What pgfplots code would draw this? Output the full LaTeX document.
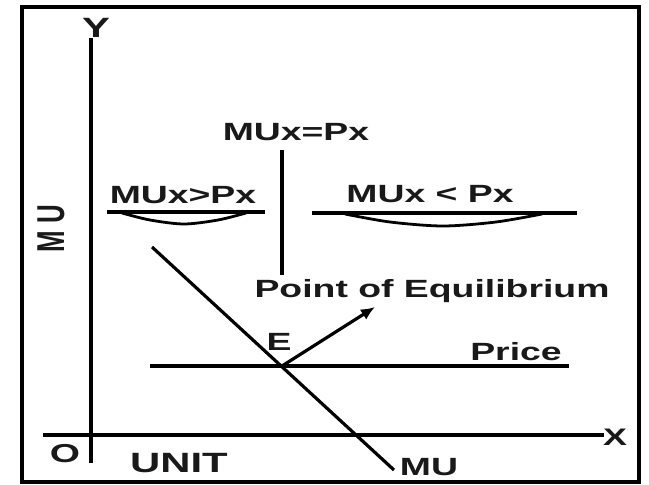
\documentclass[border=0pt]{standalone}
\usepackage{pgfplots}
\pgfplotsset{compat=1.18}
\usepackage{fontspec}
\setmainfont{Liberation Sans}
\usetikzlibrary{arrows.meta}

% bold label set at a given size, widened horizontally
\tikzset{
  lab/.style={font=\fontsize{#1}{#1}\selectfont\bfseries, xscale=1.5, inner sep=0pt, anchor=base, text=black!90},
  lab/.default=25,
  ln/.style={draw=black, solid, line width=#1, mark=none},
  ln/.default=3.2pt,
}

\begin{document}
\begin{tikzpicture}
\begin{axis}[
  scale only axis, width=649bp, height=484bp,
  xmin=0, xmax=649, ymin=0, ymax=484, y dir=reverse,
  hide axis, clip=false,
]
% page background and outer frame
\addplot[fill=white, draw=none, mark=none] coordinates {(0,0)(649,0)(649,484)(0,484)(0,0)};
\addplot[ln=4.5pt, line cap=rect, line join=miter] coordinates {(22,7)(639,7)(639,482)(22,482)(22,7)};

% axes
\addplot[ln] coordinates {(91,38)(91,463)};
\addplot[ln] coordinates {(43,435)(604,435)};

% marginal utility curve and price line
\addplot[ln] coordinates {(152,247)(394,470)};
\addplot[ln] coordinates {(150,366)(569,366)};

% equilibrium marker line and pointer
\addplot[ln] coordinates {(282,150)(282,275)};
\addplot[ln, -{Latex[length=14bp,width=12bp]}] coordinates {(282,366)(375,307)};

% brackets under the region labels
\addplot[ln=4pt] coordinates {(107,212)(265,212)};
\addplot[ln=2.8pt, smooth] coordinates {(122,213)(150,220)(184,224)(218,220)(246,213)};
\addplot[ln=4pt] coordinates {(312,213)(577,213)};
\addplot[ln=2.8pt, smooth] coordinates {(345,214)(390,222)(443,226)(496,222)(542,214)};

% labels
\node[lab=28] at (axis cs:96,38) {Y};
\node[lab=24] at (axis cs:615,445) {X};
\node[lab=26] at (axis cs:65,462) {O};
\node[lab=28] at (axis cs:179,472) {UNIT};
\node[lab=25] at (axis cs:429,475) {MU};
\node[font=\fontsize{26}{26}\selectfont\bfseries, text=black!90, rotate=90, yscale=1.5, inner sep=0pt] at (axis cs:51,229) {M U};

\node[lab=25] at (axis cs:296,141) {MUx=Px};
\node[lab=25] at (axis cs:183,203) {MUx>Px};
\node[lab=25] at (axis cs:430,202) {MUx < Px};
\node[lab=25] at (axis cs:432,297) {Point of Equilibrium};
\node[lab=25] at (axis cs:279,350) {E};
\node[lab=25] at (axis cs:516,360) {Price};
\end{axis}
\end{tikzpicture}
\end{document}
